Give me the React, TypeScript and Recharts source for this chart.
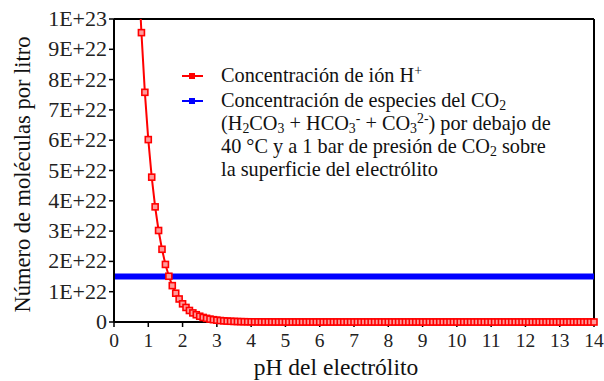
import { LineChart, Line, XAxis, YAxis, ReferenceLine } from "recharts"

// pH del electrólito (first point is where the curve leaves the top of the plot)
const phValues = [
  0.78, 0.8, 0.9,
  1, 1.1, 1.2, 1.3, 1.4, 1.5, 1.6, 1.7, 1.8, 1.9,
  2, 2.1, 2.2, 2.3, 2.4, 2.5, 2.6, 2.7, 2.8, 2.9,
  3, 3.1, 3.2, 3.3, 3.4, 3.5, 3.6, 3.7, 3.8, 3.9,
  4, 4.1, 4.2, 4.3, 4.4, 4.5, 4.6, 4.7, 4.8, 4.9,
  5, 5.1, 5.2, 5.3, 5.4, 5.5, 5.6, 5.7, 5.8, 5.9,
  6, 6.1, 6.2, 6.3, 6.4, 6.5, 6.6, 6.7, 6.8, 6.9,
  7, 7.1, 7.2, 7.3, 7.4, 7.5, 7.6, 7.7, 7.8, 7.9,
  8, 8.1, 8.2, 8.3, 8.4, 8.5, 8.6, 8.7, 8.8, 8.9,
  9, 9.1, 9.2, 9.3, 9.4, 9.5, 9.6, 9.7, 9.8, 9.9,
  10, 10.1, 10.2, 10.3, 10.4, 10.5, 10.6, 10.7, 10.8, 10.9,
  11, 11.1, 11.2, 11.3, 11.4, 11.5, 11.6, 11.7, 11.8, 11.9,
  12, 12.1, 12.2, 12.3, 12.4, 12.5, 12.6, 12.7, 12.8, 12.9,
  13, 13.1, 13.2, 13.3, 13.4, 13.5, 13.6, 13.7, 13.8, 13.9,
  14,
]

// ión H+, in units of 1E+22 molecules per litre
const hIon = [
  10.0, 9.55, 7.58,
  6.02, 4.78, 3.8, 3.02, 2.4, 1.9, 1.51, 1.2, 0.95, 0.76,
  0.6, 0.48, 0.38, 0.3, 0.24, 0.19, 0.15, 0.12, 0.095, 0.076,
  0.06, 0.048, 0.038, 0.03, 0.024, 0.019, 0.015, 0.012, 0.0095, 0.0076,
  0.006, 0.005, 0.004, 0.003, 0.002, 0.002, 0.002, 0.001, 0.001, 0.001,
  0, 0, 0, 0, 0, 0, 0, 0, 0, 0,
  0, 0, 0, 0, 0, 0, 0, 0, 0, 0,
  0, 0, 0, 0, 0, 0, 0, 0, 0, 0,
  0, 0, 0, 0, 0, 0, 0, 0, 0, 0,
  0, 0, 0, 0, 0, 0, 0, 0, 0, 0,
  0, 0, 0, 0, 0, 0, 0, 0, 0, 0,
  0, 0, 0, 0, 0, 0, 0, 0, 0, 0,
  0, 0, 0, 0, 0, 0, 0, 0, 0, 0,
  0, 0, 0, 0, 0, 0, 0, 0, 0, 0,
  0,
]

// especies del CO2 (constant), 1E+22 units
const co2Ph = [0, 14]
const co2Species = [1.5, 1.5]

const xTicks = [0, 1, 2, 3, 4, 5, 6, 7, 8, 9, 10, 11, 12, 13, 14]
const yTicks = [0, 1, 2, 3, 4, 5, 6, 7, 8, 9, 10]

const hData = phValues.map((ph, i) => ({ ph, h: hIon[i] }))
const co2Data = co2Ph.map((ph, i) => ({ ph, co2: co2Species[i] }))

const serif = '"Liberation Serif", "Times New Roman", serif'
const RED = "#ff0000"
const BLUE = "#0000ff"

const fmtY = (v: number) => (v === 0 ? "0" : v === 10 ? "1E+23" : `${v}E+22`)

// square markers; the edge point at the top border has none
const SquareDot = (props: any) => {
  const { cx, cy, index } = props
  if (cx == null || cy == null || index === 0) return <g key={index} />
  return (
    <rect key={index} x={cx - 3} y={cy - 3} width={6} height={6} fill="#ff9a9a" stroke={RED} strokeWidth={1.6} />
  )
}

const XTick = (props: any) => {
  const { x, y, payload } = props
  return (
    <text x={x} y={y + 18} textAnchor="middle" fontFamily={serif} fontSize={19.5} fill="#222">
      {payload.value}
    </text>
  )
}

const YTick = (props: any) => {
  const { x, y, payload } = props
  return (
    <text x={x} y={y + 7} textAnchor="end" fontFamily={serif} fontSize={22} fill="#222">
      {fmtY(payload.value)}
    </text>
  )
}

const LegendIcon = ({ color }: { color: string }) => (
  <svg width={21} height={10} style={{ display: "block" }}>
    <line x1={0} y1={5} x2={21} y2={5} stroke={color} strokeWidth={2} />
    <rect x={7.5} y={2.5} width={5} height={5} fill={color} stroke={color} />
  </svg>
)

const sub = { fontSize: "0.68em", verticalAlign: "-0.25em", lineHeight: 0 } as const
const sup = { fontSize: "0.68em", verticalAlign: "0.5em", lineHeight: 0 } as const

const LegendBox = () => (
  <div style={{ fontFamily: serif, fontSize: 20.3, color: "#111", lineHeight: "23px" }}>
    <div style={{ display: "flex", alignItems: "flex-start" }}>
      <div style={{ width: 39, paddingTop: 7 }}>
        <LegendIcon color={RED} />
      </div>
      <div>
        Concentración de ión H<span style={sup}>+</span>
      </div>
    </div>
    <div style={{ display: "flex", alignItems: "flex-start", marginTop: 2 }}>
      <div style={{ width: 39, paddingTop: 7 }}>
        <LegendIcon color={BLUE} />
      </div>
      <div>
        Concentración de especies del CO<span style={sub}>2</span>
        <br />
        (H<span style={sub}>2</span>CO<span style={sub}>3</span> + HCO<span style={sub}>3</span>
        <span style={sup}>-</span> + CO<span style={sub}>3</span>
        <span style={sup}>2-</span>) por debajo de
        <br />
        40 °C y a 1 bar de presión de CO<span style={sub}>2</span> sobre
        <br />
        la superficie del electrólito
      </div>
    </div>
  </div>
)

export default function App() {
  return (
    <div style={{ position: "absolute", left: 0, top: 0, width: 604, height: 381, background: "#fff", fontFamily: serif }}>
      <LineChart width={604} height={381} margin={{ top: 19, right: 10, bottom: 0, left: 0 }}>
        <XAxis
          dataKey="ph"
          type="number"
          domain={[0, 14]}
          ticks={xTicks}
          interval={0}
          allowDuplicatedCategory={false}
          height={59}
          axisLine={{ stroke: "#000", strokeWidth: 2 }}
          tickLine={{ stroke: "#000", strokeWidth: 1.5 }}
          tickSize={5}
          tick={<XTick />}
          label={{
            value: "pH del electrólito",
            position: "insideBottom",
            offset: 6,
            fontFamily: serif,
            fontSize: 23.5,
            fill: "#111",
            dx: -18,
          }}
        />
        <YAxis
          type="number"
          domain={[0, 10]}
          ticks={yTicks}
          interval={0}
          width={114}
          axisLine={{ stroke: "#000", strokeWidth: 2 }}
          tickLine={{ stroke: "#000", strokeWidth: 1.5 }}
          tickSize={5}
          tick={<YTick />}
          label={{
            value: "Número de moléculas por litro",
            angle: -90,
            position: "insideLeft",
            offset: 22,
            dy: 4,
            fontFamily: serif,
            fontSize: 22.5,
            fill: "#111",
            style: { textAnchor: "middle" },
          }}
        />
        <ReferenceLine y={10} stroke="#000" strokeWidth={2} />
        <ReferenceLine x={14} stroke="#000" strokeWidth={2} />
        <Line
          data={co2Data}
          dataKey="co2"
          stroke={BLUE}
          strokeWidth={6}
          dot={false}
          isAnimationActive={false}
          legendType="none"
        />
        <Line
          data={hData}
          dataKey="h"
          stroke={RED}
          strokeWidth={2}
          dot={SquareDot}
          isAnimationActive={false}
          legendType="none"
        />
      </LineChart>
      <div style={{ position: "absolute", left: 182, top: 64, width: 420 }}>
        <LegendBox />
      </div>
    </div>
  )
}
